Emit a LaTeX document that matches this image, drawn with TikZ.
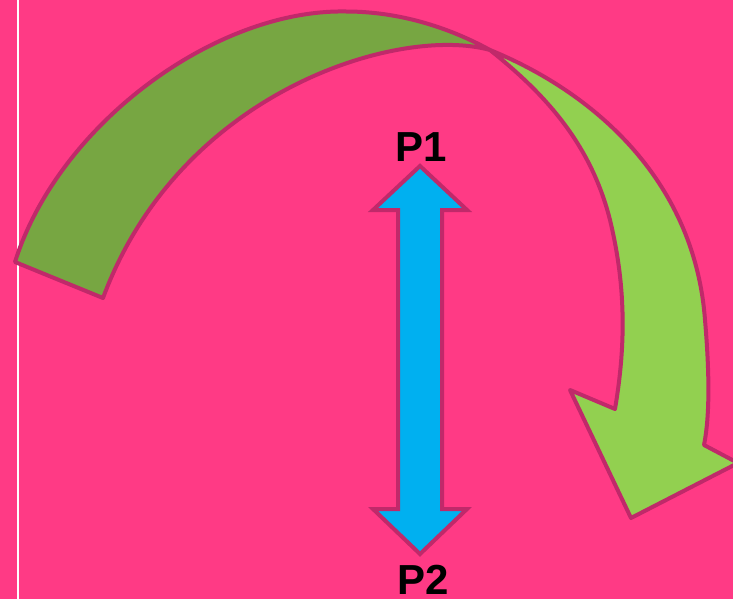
\documentclass[tikz,border=0pt]{standalone}
\usepackage{fontspec}
\setmainfont{Liberation Sans}
\definecolor{bgpink}{HTML}{FF3A85}
\definecolor{edgepink}{HTML}{C0296A}
\definecolor{darkgreen}{HTML}{77A642}
\definecolor{lightgreen}{HTML}{92D050}
\definecolor{skyblue}{HTML}{00B0F0}
\tikzset{
  shapeline/.style={draw=edgepink, line width=4pt, line join=round},
  label/.style={inner sep=0pt, font=\fontsize{42}{42}\selectfont\bfseries, text=black}
}
\begin{document}
\begin{tikzpicture}[x=1pt, y=-1pt]
\useasboundingbox (0,0) rectangle (733,599);
\fill[bgpink] (0,0) rectangle (733,599);
\fill[white] (16.6,0) rectangle (19.4,599);
\begin{scope}
\clip (0,0) rectangle (733,599);
% light green head part
\path[shapeline, fill=lightgreen]
  (490,50) .. controls (600,95) and (695,185) .. (705,320)
  .. controls (711,390) and (708,425) .. (704,445)
  -- (738,463) -- (631,518) -- (570,390) -- (615,409)
  .. controls (625,350) and (627,290) .. (610,220)
  .. controls (590,140) and (540,90) .. (490,50)
  -- cycle;
% dark green tail part
\path[shapeline, fill=darkgreen]
  (15,262) .. controls (58,125) and (215,9) .. (346,11.5)
  .. controls (400,11.5) and (450,28) .. (490,50)
  .. controls (400,25) and (180,90) .. (103,298)
  -- cycle;
% blue double arrow
\path[draw=edgepink, line width=4pt, fill=skyblue]
  (420,166) -- (467,210) -- (442,210) -- (442,509) -- (467,509) -- (420,554)
  -- (373,509) -- (398,509) -- (398,210) -- (373,210) -- cycle;
\end{scope}
\node[label] (p1) at (421,147) {P1};
\node[label] (p2) at (423,580) {P2};
\end{tikzpicture}
\end{document}
